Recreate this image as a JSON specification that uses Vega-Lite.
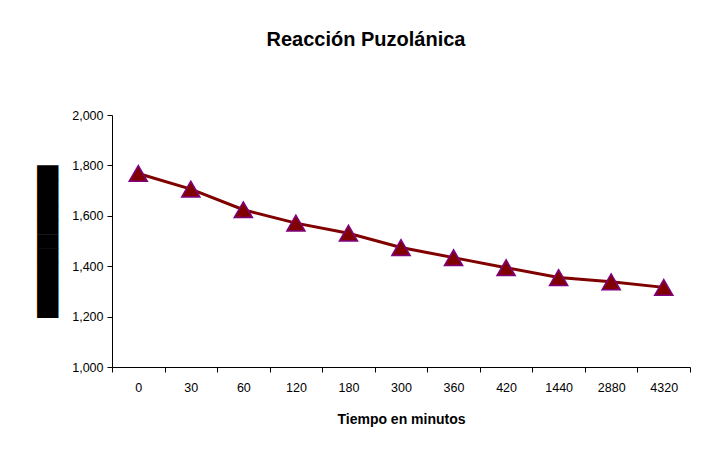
{
  "$schema": "https://vega.github.io/schema/vega-lite/v6.json",
  "autosize": "none",
  "width": 578,
  "height": 252,
  "padding": {"left": 112, "top": 115, "right": 37, "bottom": 101},
  "background": "white",
  "title": {
    "text": "Reacción Puzolánica",
    "font": "Liberation Sans",
    "fontSize": 20,
    "fontWeight": "bold",
    "color": "black",
    "anchor": "middle",
    "dx": -35,
    "offset": 59
  },
  "data": {
    "values": [
      {"t": "0", "v": 1768},
      {"t": "30", "v": 1706},
      {"t": "60", "v": 1624},
      {"t": "120", "v": 1571},
      {"t": "180", "v": 1531},
      {"t": "300", "v": 1474},
      {"t": "360", "v": 1434},
      {"t": "420", "v": 1394},
      {"t": "1440", "v": 1355},
      {"t": "2880", "v": 1338},
      {"t": "4320", "v": 1316}
    ]
  },
  "encoding": {
    "x": {
      "field": "t",
      "type": "ordinal",
      "sort": null,
      "scale": {"paddingInner": 0, "paddingOuter": 0},
      "axis": {
        "title": "Tiempo en minutos",
        "titleFont": "Liberation Sans",
        "titleFontSize": 14,
        "titleFontWeight": "bold",
        "titleColor": "black",
        "titlePadding": 19,
        "labelAngle": 0,
        "labelFont": "Liberation Sans",
        "labelFontSize": 12.5,
        "labelColor": "black",
        "labelPadding": 9,
        "tickBand": "extent",
        "tickColor": "black",
        "tickSize": 5,
        "domainColor": "black",
        "grid": false
      }
    },
    "y": {
      "field": "v",
      "type": "quantitative",
      "scale": {"domain": [1000, 2000], "nice": false},
      "axis": {
        "title": "███████████",
        "titleFont": "DejaVu Sans",
        "titleFontSize": 18,
        "titleFontWeight": "normal",
        "titleColor": "black",
        "titlePadding": 14,
        "values": [1000, 1200, 1400, 1600, 1800, 2000],
        "format": ",.0f",
        "labelFont": "Liberation Sans",
        "labelFontSize": 12.5,
        "labelColor": "black",
        "labelPadding": 4,
        "tickColor": "black",
        "tickSize": 5,
        "domainColor": "black",
        "grid": false
      }
    }
  },
  "layer": [
    {"mark": {"type": "line", "color": "#800000", "strokeWidth": 3}},
    {"mark": {"type": "point", "shape": "triangle-up", "filled": true, "fill": "#800000", "stroke": "#800080", "strokeWidth": 1.5, "size": 330, "opacity": 1}}
  ],
  "config": {"view": {"stroke": null}}
}
